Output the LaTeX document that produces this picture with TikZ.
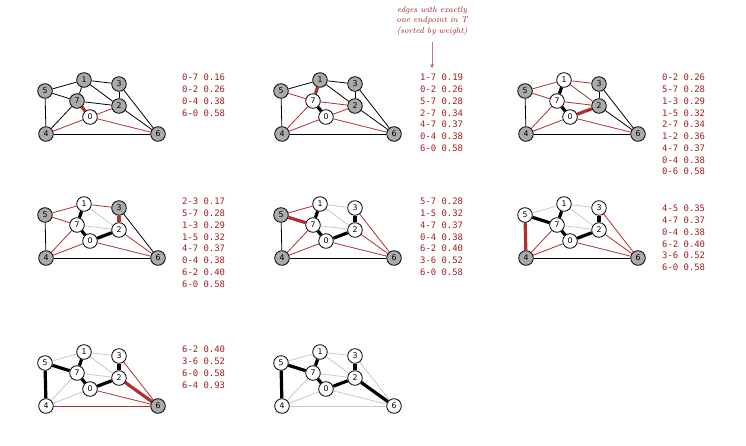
\documentclass[tikz,border=0pt]{standalone}
\usepackage{fontspec}
\newfontfamily\monofnt{DejaVu Sans Mono}
\newfontfamily\labfnt{DejaVu Sans}
\usetikzlibrary{arrows.meta,backgrounds}
\definecolor{tred}{RGB}{160,30,35}
\definecolor{ered}{RGB}{178,45,45}
\definecolor{ngray}{RGB}{170,170,170}
\definecolor{ghost}{RGB}{200,200,200}
\def\xs{{90,84,119,119,46,45,158,77}}
\def\ys{{117,80,106,84,134,91,134,101}}
\newcommand\wv[2]{\foreach \n in {#2}{\pgfmathsetmacro\vx{\xs[\n]}\pgfmathsetmacro\vy{\ys[\n]}\node[vtx,fill=white] (#1\n) at (\vx,\vy) {\n};}}
\newcommand\gv[2]{\foreach \n in {#2}{\pgfmathsetmacro\vx{\xs[\n]}\pgfmathsetmacro\vy{\ys[\n]}\node[vtx,fill=ngray] (#1\n) at (\vx,\vy) {\n};}}
\newcommand\ed[3]{\begin{pgfonlayer}{background}\foreach \u/\v in {#3}{\draw[#1] (#2\u) -- (#2\v);}\end{pgfonlayer}}
\begin{document}
\begin{tikzpicture}[x=1pt,y=-1pt,
 vtx/.style={circle,draw=black,line width=0.8pt,minimum size=14.6pt,inner sep=0pt,font=\labfnt\fontsize{7.8}{8}\selectfont},
 blk/.style={draw=black,line width=0.8pt},
 thinred/.style={draw=ered,line width=0.8pt},
 thickred/.style={draw=ered,line width=3.2pt},
 thickblk/.style={draw=black,line width=3.2pt},
 ghostedge/.style={draw=ghost,line width=0.8pt},
 pq/.style={anchor=north west,inner sep=0pt,align=left,text=tred,font=\monofnt\fontsize{8.9}{11.75}\selectfont},
 ann/.style={align=center,text=tred,inner sep=0pt,font=\itshape\fontsize{8.4}{10.5}\selectfont},
 annarrow/.style={draw=tred!60,line width=0.8pt,shorten <=6pt,-{Stealth[length=4pt,width=3.5pt,color=tred!80]}}
 ]
\useasboundingbox (0,0) rectangle (746,446);

% Panel A
\begin{scope}
 \wv{a}{0} \gv{a}{1,2,3,4,5,6,7}
 \ed{thickred}{a}{0/7}
 \ed{thinred}{a}{0/2,0/4,6/0}
 \ed{blk}{a}{4/5,4/7,5/7,1/5,2/3,1/7,1/2,1/3,2/7,6/2,3/6,6/4}
 \node[pq] (la) at (182,74) {0-7 0.16\\0-2 0.26\\0-4 0.38\\6-0 0.58};
\end{scope}

% Panel B
\begin{scope}[shift={(236,0)}]
 \wv{b}{0,7} \gv{b}{1,2,3,4,5,6}
 \ed{thickblk}{b}{0/7}
 \ed{thickred}{b}{1/7}
 \ed{thinred}{b}{0/2,5/7,2/7,4/7,0/4,6/0}
 \ed{blk}{b}{1/5,1/2,1/3,2/3,6/2,3/6,6/4,4/5}
 \node[pq] (lb) at (184,74) {1-7 0.19\\0-2 0.26\\5-7 0.28\\2-7 0.34\\4-7 0.37\\0-4 0.38\\6-0 0.58};
\end{scope}

% annotation
\node[ann] (note) at (432,21) {edges with exactly\\one endpoint in T\\(sorted by weight)};
\coordinate (tip) at (432,68);
\draw[annarrow] (note) -- (tip);

% Panel C
\begin{scope}[shift={(480,0)}]
 \wv{c}{0,7,1} \gv{c}{2,3,4,5,6}
 \ed{thickblk}{c}{0/7,1/7}
 \ed{thickred}{c}{0/2}
 \ed{thinred}{c}{5/7,1/3,1/5,2/7,1/2,4/7,0/4,0/6}
 \ed{blk}{c}{2/3,6/2,3/6,4/5,6/4}
 \node[pq] (lc) at (182,74) {0-2 0.26\\5-7 0.28\\1-3 0.29\\1-5 0.32\\2-7 0.34\\1-2 0.36\\4-7 0.37\\0-4 0.38\\0-6 0.58};
\end{scope}

% Panel D
\begin{scope}[shift={(0,124)}]
 \wv{d}{0,7,1,2} \gv{d}{3,4,5,6}
 \ed{thickblk}{d}{0/7,1/7,0/2}
 \ed{thickred}{d}{2/3}
 \ed{thinred}{d}{5/7,1/3,1/5,4/7,0/4,6/2,6/0}
 \ed{ghostedge}{d}{2/7,1/2}
 \ed{blk}{d}{3/6,4/5,6/4}
 \node[pq] (ld) at (182,74) {2-3 0.17\\5-7 0.28\\1-3 0.29\\1-5 0.32\\4-7 0.37\\0-4 0.38\\6-2 0.40\\6-0 0.58};
\end{scope}

% Panel E
\begin{scope}[shift={(236,124)}]
 \wv{e}{0,7,1,2,3} \gv{e}{4,5,6}
 \ed{thickblk}{e}{0/7,1/7,0/2,2/3}
 \ed{thickred}{e}{5/7}
 \ed{thinred}{e}{1/5,4/7,0/4,6/2,3/6,6/0}
 \ed{ghostedge}{e}{1/2,2/7,1/3}
 \ed{blk}{e}{4/5,6/4}
 \node[pq] (le) at (184,74) {5-7 0.28\\1-5 0.32\\4-7 0.37\\0-4 0.38\\6-2 0.40\\3-6 0.52\\6-0 0.58};
\end{scope}

% Panel F
\begin{scope}[shift={(480,124)}]
 \wv{f}{0,7,1,2,3,5} \gv{f}{4,6}
 \ed{thickblk}{f}{0/7,1/7,0/2,2/3,5/7}
 \ed{thickred}{f}{4/5}
 \ed{thinred}{f}{4/7,0/4,6/2,3/6,6/0}
 \ed{ghostedge}{f}{1/2,2/7,1/3,1/5}
 \ed{blk}{f}{6/4}
 \node[pq] (lf) at (182,81) {4-5 0.35\\4-7 0.37\\0-4 0.38\\6-2 0.40\\3-6 0.52\\6-0 0.58};
\end{scope}

% Panel G
\begin{scope}[shift={(0,272)}]
 \wv{g}{0,1,2,3,4,5,7} \gv{g}{6}
 \ed{thickblk}{g}{0/7,1/7,0/2,2/3,5/7,4/5}
 \ed{thickred}{g}{6/2}
 \ed{thinred}{g}{3/6,6/0,6/4}
 \ed{ghostedge}{g}{1/2,2/7,1/3,1/5,4/7,0/4}
 \node[pq] (lg) at (182,74) {6-2 0.40\\3-6 0.52\\6-0 0.58\\6-4 0.93};
\end{scope}

% Panel H
\begin{scope}[shift={(236,272)}]
 \wv{h}{0,1,2,3,4,5,6,7}
 \ed{thickblk}{h}{0/7,1/7,0/2,2/3,5/7,4/5,6/2}
 \ed{ghostedge}{h}{1/2,2/7,1/3,1/5,4/7,0/4,3/6,6/0,6/4}
\end{scope}
\end{tikzpicture}
\end{document}
